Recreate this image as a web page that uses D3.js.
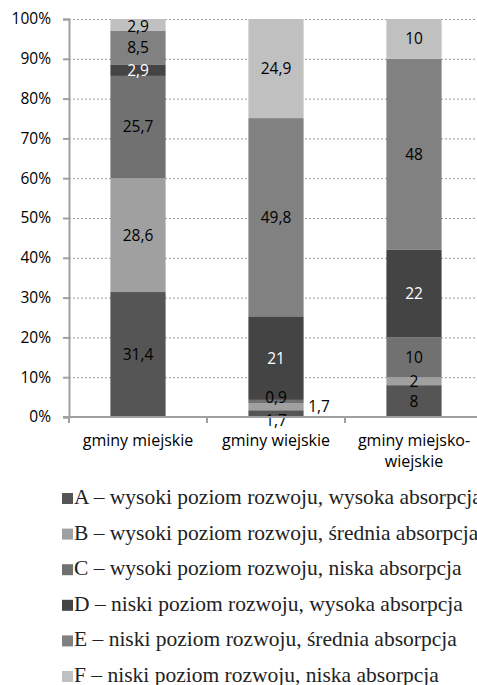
<!DOCTYPE html>
<html lang="pl">
<head>
<meta charset="utf-8">
<title>Typy gmin</title>
<script src="https://d3js.org/d3.v7.min.js"></script>
<style>
  body, html { margin: 0; padding: 0; background: #fff; }
  svg { display: block; }
</style>
</head>
<body>
<div id="chart"></div>
<script>
// categories and series
var categories = ["gminy miejskie", "gminy wiejskie", "gminy miejsko-wiejskie"]
var seriesKeys = ["A", "B", "C", "D", "E", "F"]
var seriesNames = [
  "A – wysoki poziom rozwoju, wysoka absorpcja",
  "B – wysoki poziom rozwoju, średnia absorpcja",
  "C – wysoki poziom rozwoju, niska absorpcja",
  "D – niski poziom rozwoju, wysoka absorpcja",
  "E – niski poziom rozwoju, średnia absorpcja",
  "F – niski poziom rozwoju, niska absorpcja"
]
var valuesA = [31.4, 1.7, 8]
var valuesB = [28.6, 1.7, 2]
var valuesC = [25.7, 0.9, 10]
var valuesD = [2.9, 21, 22]
var valuesE = [8.5, 49.8, 48]
var valuesF = [2.9, 24.9, 10]
var yTicks = [0, 10, 20, 30, 40, 50, 60, 70, 80, 90, 100]

var colors = ["#555555", "#a0a0a0", "#717171", "#444444", "#818181", "#c0c0c0"]
var labelColors = ["#000", "#000", "#000", "#fff", "#000", "#000"]

var rows = categories.map(function (c, i) {
  return {cat: c, A: valuesA[i], B: valuesB[i], C: valuesC[i], D: valuesD[i], E: valuesE[i], F: valuesF[i]}
})

var W = 477, H = 685
var margin = {top: 19, left: 69, bottom: 268}
var plotH = H - margin.top - margin.bottom
var band = 138

var svg = d3.select("#chart").append("svg")
  .attr("width", W)
  .attr("height", H)

var x = d3.scaleBand()
  .domain(categories)
  .range([margin.left, margin.left + band * categories.length])
  .paddingInner(0.6)
  .paddingOuter(0.3)

var y = d3.scaleLinear()
  .domain([0, 100])
  .range([margin.top + plotH, margin.top])

var sansFont = "'Open Sans', sans-serif"

// grid lines
svg.append("g")
  .selectAll("line")
  .data(yTicks.filter(function (d) { return d > 0 }))
  .enter().append("line")
  .attr("x1", margin.left)
  .attr("x2", W)
  .attr("y1", function (d) { return y(d) + 0.5 })
  .attr("y2", function (d) { return y(d) + 0.5 })
  .attr("stroke", "#9a9a9a")
  .attr("stroke-width", 1)
  .attr("stroke-dasharray", "2,2")

// stacked bars
var stack = d3.stack().keys(seriesKeys)
var layers = stack(rows)

var layerG = svg.append("g")
  .selectAll("g")
  .data(layers)
  .enter().append("g")
  .attr("fill", function (d, i) { return colors[i] })

layerG.selectAll("rect")
  .data(function (d) { return d })
  .enter().append("rect")
  .attr("x", function (d) { return x(d.data.cat) })
  .attr("width", x.bandwidth())
  .attr("y", function (d) { return y(d[1]) })
  .attr("height", function (d) { return y(d[0]) - y(d[1]) })

// special placement for thin segments in "gminy wiejskie"
var labelShift = {
  "gminy wiejskie|A": {dx: 0, dy: 7},
  "gminy wiejskie|B": {dx: 43, dy: 0},
  "gminy wiejskie|C": {dx: 0, dy: -4},
  "gminy miejskie|F": {dx: 0, dy: 2}
}

layers.forEach(function (layer, i) {
  svg.append("g").selectAll("text")
    .data(layer)
    .enter().append("text")
    .attr("x", function (d) {
      var s = labelShift[d.data.cat + "|" + layer.key]
      return x(d.data.cat) + x.bandwidth() / 2 + (s ? s.dx : 0)
    })
    .attr("y", function (d) {
      var s = labelShift[d.data.cat + "|" + layer.key]
      return (y(d[0]) + y(d[1])) / 2 + (s ? s.dy : 0)
    })
    .attr("dy", "0.35em")
    .attr("text-anchor", "middle")
    .attr("font-family", sansFont)
    .attr("font-size", "15.5px")
    .attr("fill", function (d) {
      var s = labelShift[d.data.cat + "|" + layer.key]
      return s && s.dx ? "#000" : labelColors[i]
    })
    .text(function (d) { return String(d.data[layer.key]).replace(".", ",") })
})

// y axis
var yAxis = svg.append("g")
  .attr("transform", "translate(" + margin.left + ",0)")
  .call(d3.axisLeft(y).tickValues(yTicks).tickSize(6).tickPadding(12)
    .tickFormat(function (d) { return d + "%" }))
yAxis.select(".domain").attr("stroke", "#a0a0a0").attr("stroke-width", 2)
yAxis.selectAll(".tick line").attr("stroke", "#a0a0a0").attr("stroke-width", 2)
yAxis.selectAll(".tick text")
  .attr("font-family", sansFont)
  .attr("font-size", "15.5px")
  .attr("fill", "#000")

// x axis
var xAxisY = y(0)
svg.append("line")
  .attr("x1", margin.left - 6)
  .attr("x2", W)
  .attr("y1", xAxisY)
  .attr("y2", xAxisY)
  .attr("stroke", "#a0a0a0")
  .attr("stroke-width", 2)

svg.append("g").selectAll("line")
  .data(d3.range(categories.length + 1))
  .enter().append("line")
  .attr("x1", function (i) { return margin.left + i * band })
  .attr("x2", function (i) { return margin.left + i * band })
  .attr("y1", xAxisY)
  .attr("y2", xAxisY + 6)
  .attr("stroke", "#a0a0a0")
  .attr("stroke-width", 2)

var catLines = [["gminy miejskie"], ["gminy wiejskie"], ["gminy miejsko-", "wiejskie"]]
categories.forEach(function (c, i) {
  var t = svg.append("text")
    .attr("x", x(c) + x.bandwidth() / 2)
    .attr("y", xAxisY + 29)
    .attr("text-anchor", "middle")
    .attr("font-family", sansFont)
    .attr("font-size", "16px")
    .attr("fill", "#000")
  catLines[i].forEach(function (line, j) {
    t.append("tspan")
      .attr("x", x(c) + x.bandwidth() / 2)
      .attr("dy", j === 0 ? 0 : 21)
      .text(line)
  })
})

// legend
var legend = svg.append("g")
  .attr("transform", "translate(62,504)")
seriesNames.forEach(function (name, i) {
  legend.append("rect")
    .attr("x", 0)
    .attr("y", i * 35.6 - 11)
    .attr("width", 11)
    .attr("height", 11)
    .attr("fill", colors[i])
  legend.append("text")
    .attr("x", 12)
    .attr("y", i * 35.6)
    .attr("font-family", "'Liberation Serif', 'Times New Roman', serif")
    .attr("font-size", "21.5px")
    .attr("fill", "#222")
    .text(name)
})
</script>
</body>
</html>
